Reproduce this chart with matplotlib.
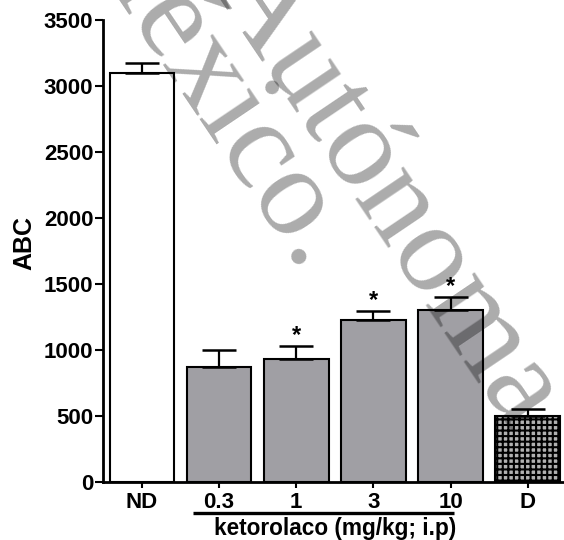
import matplotlib
matplotlib.use("Agg")
import matplotlib.pyplot as plt
import matplotlib.transforms as mtransforms

plt.rcParams['font.family'] = ['Liberation Sans', 'DejaVu Sans']
plt.rcParams['font.weight'] = 'bold'
plt.rcParams['hatch.linewidth'] = 1.5

categories = ["ND", "0.3", "1", "3", "10", "D"]
values = [3100, 870, 935, 1225, 1305, 500]
errors = [75, 130, 95, 70, 100, 50]
significant = [False, False, True, True, True, False]
yticks = [0, 500, 1000, 1500, 2000, 2500, 3000, 3500]
ylabel = "ABC"
group_label = "ketorolaco (mg/kg; i.p)"
group_members = ["0.3", "1", "3", "10"]
watermarks = ["México.", "Autónoma"]

W, H = 564, 540
fig = plt.figure(figsize=(W / 100, H / 100), dpi=100)
ax = fig.add_axes([103 / W, 58 / H, (W - 103) / W, 462 / H])

x = list(range(len(categories)))
faces = ['white', '#a09fa4', '#a09fa4', '#a09fa4', '#a09fa4', '#b0b0b0']
hatches = [None, None, None, None, None, '+++']
for xi, v, fc, h in zip(x, values, faces, hatches):
    ax.bar(xi, v, width=0.837, color=fc, edgecolor='black', linewidth=1.5,
           hatch=h, zorder=2)

ax.errorbar(x, values, yerr=[[0] * len(values), errors], fmt='none',
            ecolor='black', elinewidth=1.6, capsize=12, capthick=1.8, zorder=3)

for xi, v, e, s in zip(x, values, errors, significant):
    if s:
        ax.text(xi, v + e + 30, "*", ha='center', va='baseline',
                fontsize=17, fontweight='bold', zorder=4)

ax.set_xlim(-0.505, 5.47)
ax.set_ylim(0, 3500)
ax.set_yticks(yticks)
ax.set_xticks(x)
ax.set_xticklabels(categories)
ax.tick_params(axis='y', direction='out', length=6, width=1.5, pad=1, labelsize=16)
ax.tick_params(axis='x', direction='out', length=4, width=1.5, pad=3, labelsize=16)
for lab in ax.get_xticklabels() + ax.get_yticklabels():
    lab.set_fontweight('bold')
for sp in ['top', 'right']:
    ax.spines[sp].set_visible(False)
for sp in ['left', 'bottom']:
    ax.spines[sp].set_linewidth(2.0)

fig.text(24 / W, 1 - 243.5 / H, ylabel, rotation=90, ha='center', va='center',
         fontsize=18, fontweight='bold')

trans = mtransforms.blended_transform_factory(ax.transData, ax.transAxes)
i0 = categories.index(group_members[0])
i1 = categories.index(group_members[-1])
ax.plot([i0 - 0.34, i1 + 0.04], [-0.067, -0.067], color='black', lw=2.4,
        transform=trans, clip_on=False, solid_capstyle='butt')
ax.text((i0 + i1) / 2, -0.0996, group_label, transform=trans,
        ha='center', va='center', fontsize=16.3, fontweight='bold')

# watermark
fig.text(208 / W, 1 - 84 / H, watermarks[0], fontsize=92, family='Liberation Serif',
         fontweight='normal', color='black', alpha=0.33, rotation=-56,
         rotation_mode='anchor', ha='center', va='center', zorder=10)
fig.text(386 / W, 1 - 193 / H, watermarks[1], fontsize=92, family='Liberation Serif',
         fontweight='normal', color='black', alpha=0.33, rotation=-56,
         rotation_mode='anchor', ha='center', va='center', zorder=10)

fig.savefig("out.png", dpi=100)
